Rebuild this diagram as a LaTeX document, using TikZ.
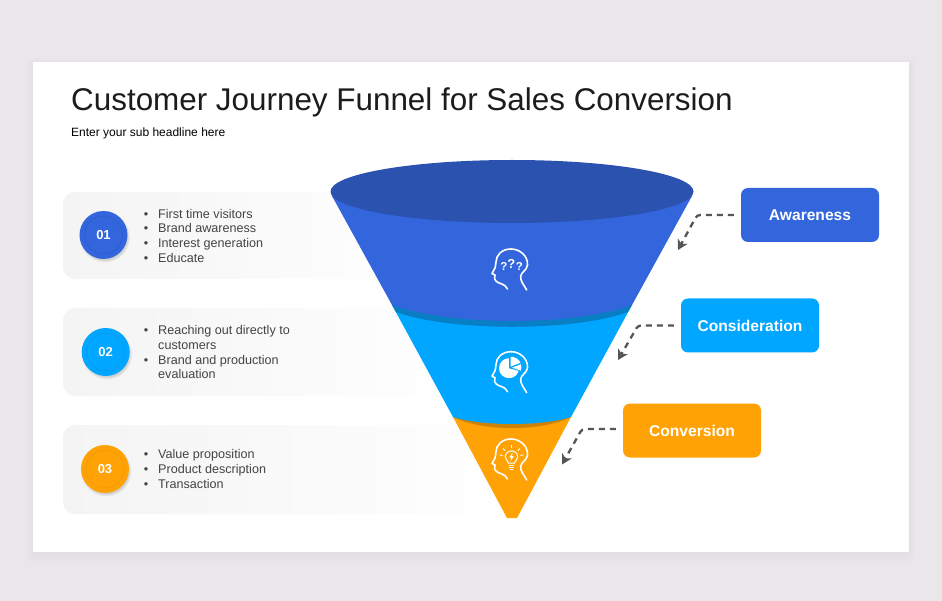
\documentclass[tikz,border=0pt]{standalone}
\usepackage{fontspec}
\setmainfont{Liberation Sans}
\usetikzlibrary{arrows.meta,shadows,calc}
\definecolor{PageGray}{RGB}{233,231,233}
\definecolor{PillGray}{RGB}{244,244,244}
\definecolor{BodyText}{RGB}{68,68,68}
\definecolor{TitleInk}{RGB}{28,28,30}
\definecolor{FlowGray}{RGB}{85,85,85}
\definecolor{AwareBlue}{RGB}{51,102,221}
\definecolor{AwareDark}{RGB}{42,82,174}
\definecolor{ConsiderBlue}{RGB}{0,166,255}
\definecolor{ConsiderDark}{RGB}{8,126,196}
\definecolor{ConvertAmber}{RGB}{255,162,5}
\definecolor{ConvertDark}{RGB}{204,130,8}
\newcommand{\bul}{\llap{\textbullet\hspace{10pt}}}
\newcommand{\headpath}{
  \draw[iconline] (15.7,20) .. controls (13,15) and (9,11) .. (9.7,6) .. controls (10.5,2) and (16,0) .. (16.5,-5)
    .. controls (17,-14) and (9,-21) .. (0,-21) .. controls (-9,-21) and (-15,-15) .. (-15,-8)
    .. controls (-15,-5) and (-16,-3) .. (-16,-2) -- (-19,3.5) -- (-16,5)
    .. controls (-17,8) and (-16.5,10) .. (-15,11) .. controls (-13,14) and (-6,13) .. (-3.5,19);
}
\tikzset{
  iconline/.style={white,line width=1.6pt,line cap=round,line join=round},
  pill/.style={left color=PillGray,middle color=PillGray,right color=white,rounded corners=12pt},
  disc/.style={circle,minimum size=48pt,inner sep=0pt,text=white,font=\fontsize{13}{15}\selectfont\bfseries,
    circular drop shadow={shadow xshift=1pt,shadow yshift=-2pt,opacity=.35,shadow scale=1.06}},
  points/.style={anchor=west,align=left,inner sep=0pt,text=BodyText,font=\fontsize{12.6}{14.6}\selectfont},
  stage/.style={rounded corners=7pt,minimum width=138pt,minimum height=54pt,inner sep=0pt,text=white,
    font=\fontsize{15.6}{18}\selectfont\bfseries},
  query/.style={white,font=\fontsize{#1}{#1}\selectfont\bfseries,inner sep=0pt},
  flow/.style={FlowGray,line width=2.3pt,dash pattern=on 6pt off 5pt,rounded corners=3pt,-{Stealth[length=10pt,width=11pt,inset=3pt]},shorten <=7pt},
  pics/headquery/.style={code={
    \headpath
    \node[query=11.5] (q1) at (-7,-4) {?};
    \node[query=13] (q2) at (0.3,-6) {?};
    \node[query=11.5] (q3) at (8.5,-4) {?};
  }},
  pics/headpie/.style={code={
    \headpath
    \fill[white] (-2,-4.5) circle (10);
    \fill[ConsiderBlue] (-2,-4.5) -- (-2,-15.5) -- (11,-15.5) -- (11,-1) -- cycle;
    \fill[white] (-0.5,-6) -- (-0.5,-16) .. controls (4,-16) and (8,-13.5) .. (9.5,-10) -- cycle;
    \fill[white] (1,-5) -- (10,-8.5) .. controls (10.6,-6) and (10.4,-3.5) .. (9.8,-2) -- cycle;
  }},
  pics/headbulb/.style={code={
    \headpath
    \draw[white,line width=1pt] (-2.5,3) .. controls (-2.5,0.5) and (-5.8,0) .. (-5.8,-3) .. controls (-5.8,-6.5) and (-3,-9) .. (0.5,-9)
      .. controls (4,-9) and (6.8,-6.5) .. (6.8,-3) .. controls (6.8,0) and (3.5,0.5) .. (3.5,3) -- cycle;
    \draw[white,line width=1pt] (-2.2,5) -- (3.2,5) (-1.8,7) -- (2.8,7) (-0.8,9) -- (1.8,9);
    \fill[white] (1.6,-7.5) -- (-1.6,-2.5) -- (0.2,-2.5) -- (-0.6,1.5) -- (2.8,-3.8) -- (0.9,-3.8) -- cycle;
    \foreach \a in {-170,-135,-90,-45,-10}{
      \draw[white,line width=.9pt] ($(0.5,-3)+(\a:9)$) -- ($(0.5,-3)+(\a:12)$);
    }
  }}
}
\begin{document}
\begin{tikzpicture}[x=1pt,y=-1pt,>=Stealth]
  \fill[PageGray] (0,0) rectangle (942,601);
  \foreach \s in {1,...,7}{
    \fill[black,opacity=.005,rounded corners=4pt] (33-\s,62-\s+3) rectangle (909+\s,552+\s+3);
  }
  \fill[white] (33,62) rectangle (909,552);

  \node[anchor=west,inner sep=0pt,text=TitleInk,font=\fontsize{31.4}{38}\selectfont] (title) at (71,102) {Customer Journey Funnel for Sales Conversion};
  \node[anchor=west,inner sep=0pt,text=black,font=\fontsize{12}{15}\selectfont] (subhead) at (71,133.5) {Enter your sub headline here};

  \shade[pill] (63,192) rectangle (430,279);
  \shade[pill] (63,308) rectangle (470,396);
  \shade[pill] (63,425) rectangle (520,514);

  \node[disc,fill=AwareBlue] (num1) at (103.5,235) {01};
  \node[disc,fill=ConsiderBlue] (num2) at (105.7,352) {02};
  \node[disc,fill=ConvertAmber] (num3) at (105,469) {03};
  \draw[AwareDark!70!AwareBlue] (num1) circle (19);
  \draw[ConsiderDark!30!ConsiderBlue] (num2) circle (19);
  \draw[ConvertDark!40!ConvertAmber] (num3) circle (19);

  \node[points] (list1) at (158,235.7) {\bul First time visitors\\\bul Brand awareness\\\bul Interest generation\\\bul Educate};
  \node[points] (list2) at (158,352.2) {\bul Reaching out directly to\\customers\\\bul Brand and production\\evaluation};
  \node[points] (list3) at (158,469) {\bul Value proposition\\\bul Product description\\\bul Transaction};

  \fill[ConvertAmber] (453,417) -- (571,417) -- (517,518) -- (507,518) -- cycle;
  \fill[ConvertDark] (453,417) .. controls (482,431.7) and (542,431.7) .. (571,417) -- cycle;
  \fill[ConsiderBlue] (392,305) -- (453,417) .. controls (482,426.3) and (542,426.3) .. (571,417) -- (632,305) -- cycle;
  \fill[ConsiderDark] (392,305) -- (396,312) .. controls (450,331.7) and (574,331.7) .. (628,312) -- (632,305) -- cycle;
  \fill[AwareBlue] (332,196) -- (392,305) .. controls (450,326.3) and (574,326.3) .. (632,305) -- (692,196) -- cycle;
  \fill[AwareDark] (512,191.5) ellipse [x radius=181.5,y radius=31.5];

  \pic (iconAw) at (511,270) {headquery};
  \pic (iconCo) at (511,372.7) {headpie};
  \pic (iconCv) at (511,460) {headbulb};

  \node[stage,fill=AwareBlue] (lblAw) at (810,215) {Awareness};
  \node[stage,fill=ConsiderBlue] (lblCo) at (750,325.5) {Consideration};
  \node[stage,fill=ConvertAmber] (lblCv) at (692,430.5) {Conversion};

  \coordinate (awBend) at (697,215);
  \coordinate (awTip) at (678,250);
  \coordinate (coBend) at (638,325.5);
  \coordinate (coTip) at (618,360);
  \coordinate (cvBend) at (582,429);
  \coordinate (cvTip) at (562,464.5);
  \draw[flow] (lblAw.west) -- (awBend) -- (awTip);
  \draw[flow] (lblCo.west) -- (coBend) -- (coTip);
  \draw[flow] (lblCv.west |- cvBend) -- (cvBend) -- (cvTip);
\end{tikzpicture}
\end{document}
